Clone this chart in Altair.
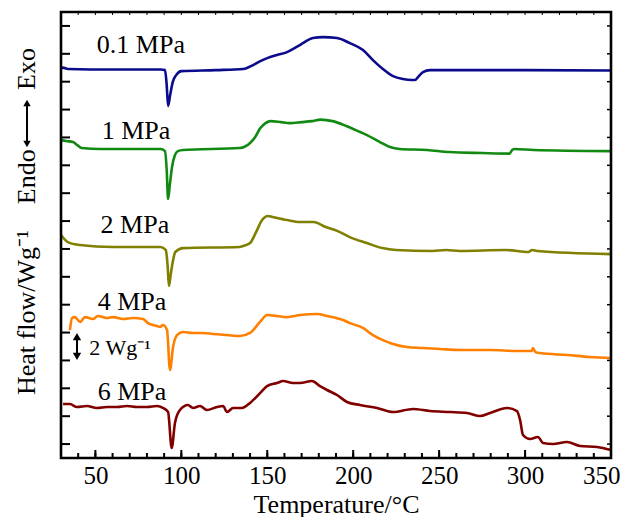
import altair as alt
import pandas as pd

FONT = "Liberation Serif"

# ---- curve data: temperature (°C) and offset heat flow (W/g, arbitrary stack offset) ----
T_01 = [30, 31, 34, 60, 88, 90.5, 91.5, 92.3, 93.5, 95, 97, 100, 120, 136, 141.7, 146, 150, 155.7,
        161.5, 169, 176.6, 182.4, 190.6, 198, 205.7, 211.5, 217.3, 223.2, 229, 234, 236, 237.7,
        240.6, 244.7, 266, 300, 350]
V_01 = [27.94, 28.01, 27.91, 27.87, 27.87, 27.83, 26.76, 25.25, 26.04, 26.97, 27.47, 27.76, 27.83,
        27.91, 28.19, 28.48, 28.69, 28.91, 29.12, 29.63, 30.13, 30.2, 30.13, 29.77, 29.27, 28.55,
        27.91, 27.40, 27.19, 27.12, 27.12, 27.33, 27.69, 27.83, 27.83, 27.83, 27.80]

T_1 = [30, 33, 37, 39.5, 42, 53, 88, 90.5, 91.5, 92.3, 93.3, 94.6, 96.3, 98, 101, 134, 140, 143,
       146, 149, 152, 158, 163, 170, 176, 181, 188, 196, 204, 208, 215.6, 221.4, 227, 243, 256,
       275, 291, 292.5, 294, 305, 350]
V_1 = [22.81, 22.74, 22.67, 22.45, 22.24, 22.17, 22.17, 22.02, 20.66, 18.58, 19.58, 20.88, 21.74,
       22.02, 22.10, 22.24, 22.60, 23.03, 23.67, 24.03, 24.17, 24.10, 24.03, 24.10, 24.17, 24.28,
       24.17, 23.82, 23.39, 23.17, 22.67, 22.31, 22.17, 22.10, 21.95, 21.88, 21.84, 22.10, 22.17,
       22.10, 22.02]

T_2 = [30, 34, 41, 60, 88, 91, 92, 92.8, 93.8, 95, 96.5, 101, 134, 136, 140, 143.5, 147, 150.4,
       153, 161.5, 169, 177, 184, 191, 198, 208, 217, 225, 246, 254, 262, 289, 302, 304, 307, 350]
V_2 = [16.0, 15.49, 15.28, 15.14, 15.14, 14.92, 13.85, 12.34, 13.13, 14.06, 14.78, 15.06, 15.14,
       15.21, 15.42, 16.21, 17.07, 17.36, 17.29, 17.07, 16.93, 16.93, 16.57, 16.28, 15.85, 15.42,
       15.06, 14.92, 14.85, 14.92, 14.85, 14.92, 14.78, 14.92, 14.85, 14.63]

T_4 = [35.2, 36.4, 38.1, 41.1, 44, 48.6, 51.5, 56.8, 60.3, 66.1, 71.9, 77.7, 80.6, 85.9, 87.6,
       89.3, 91.7, 93.4, 95.2, 97.5, 101, 106.8, 112.6, 118.4, 126.6, 134.1, 140, 145.8, 149.9,
       155.7, 161.5, 169.1, 179, 184.8, 194.1, 198.1, 205.7, 211.5, 217.3, 223.2, 231.3, 240.6,
       250.5, 262.1, 279.6, 295.3, 304, 304.6, 306, 308.7, 324.4, 337.8, 350]
V_4 = [9.18, 10.04, 10.11, 9.76, 10.11, 9.97, 10.19, 10.04, 10.11, 9.97, 10.04, 9.97, 9.68, 9.47,
       9.40, 9.54, 9.18, 6.31, 7.96, 8.82, 9.04, 8.97, 8.97, 8.90, 8.82, 8.75, 8.97, 9.76, 10.26,
       10.19, 10.11, 10.26, 10.33, 10.19, 9.90, 9.68, 9.33, 8.82, 8.46, 8.18, 7.96, 7.89, 7.82,
       7.75, 7.75, 7.68, 7.68, 7.89, 7.60, 7.53, 7.39, 7.25, 7.17]

T_6 = [31.2, 35.2, 39.3, 45.1, 50.9, 56.8, 62.6, 68.4, 74.2, 80, 85.9, 89.3, 92.3, 94.4, 96.3,
       99.2, 103.9, 106.8, 110.9, 114.9, 120.8, 124.3, 126.6, 130.1, 135.3, 140, 145.8, 149.9,
       155.7, 159.2, 165, 169.1, 176, 180.7, 184.8, 190.6, 196.4, 204, 213.9, 223.2, 234.8, 244.7,
       256.3, 266.2, 273.8, 279.6, 289.5, 295.3, 297.1, 298.8, 302.9, 307.5, 310.4, 316.3, 324.4,
       332, 341.9, 350]
V_6 = [3.87, 3.87, 3.66, 3.73, 3.59, 3.66, 3.66, 3.73, 3.66, 3.66, 3.73, 3.59, 3.30, 0.72, 2.51,
       3.44, 3.80, 3.59, 3.73, 3.44, 3.66, 3.73, 3.30, 3.59, 3.59, 3.95, 4.66, 5.16, 5.38, 5.52,
       5.38, 5.38, 5.52, 5.16, 4.88, 4.52, 4.02, 3.80, 3.59, 3.30, 3.52, 3.37, 3.30, 3.23, 3.01,
       3.23, 3.59, 3.37, 2.73, 1.65, 1.36, 1.51, 1.08, 1.00, 1.15, 0.86, 0.79, 0.57]

SERIES = ["0.1 MPa", "1 MPa", "2 MPa", "4 MPa", "6 MPa"]
COLORS = ["#0b0b8c", "#128a12", "#808000", "#ff8000", "#800000"]

LABEL_T = [76.5, 73.6, 73.0, 71.3, 71.3]
LABEL_V = [29.06, 22.89, 16.14, 10.62, 4.16]

X_LABELS = [50, 100, 150, 200, 250, 300, 350]
X_MINOR = [40, 50, 60, 70, 80, 90, 100, 110, 120, 130, 140, 150, 160, 170, 180, 190, 200, 210,
           220, 230, 240, 250, 260, 270, 280, 290, 300, 310, 320, 330, 340]
Y_TICKS = [1, 3, 5, 7, 9, 11, 13, 15, 17, 19, 21, 23, 25, 27, 29, 31]

SCALE_T = 39.3
SCALE_LO, SCALE_HI = 7, 9
SCALE_TEXT = "2 Wg⁻¹"
SCALE_TEXT_T, SCALE_TEXT_V = 46.5, 7.4

Y_TITLE_MAIN = "Heat flow/Wg⁻¹\u2003Endo"
Y_TITLE_EXO = "Exo"

rows = []
for name, ts, vs in zip(SERIES, [T_01, T_1, T_2, T_4, T_6], [V_01, V_1, V_2, V_4, V_6]):
    for i, (t, v) in enumerate(zip(ts, vs)):
        rows.append({"series": name, "T": t, "v": v, "i": i})
df = pd.DataFrame(rows)

W, H = 550, 446
xs = alt.Scale(domain=[30, 350], nice=False, zero=False)
ys = alt.Scale(domain=[0, 32], nice=False, zero=False)
xaxis = alt.Axis(values=X_LABELS, ticks=False, domain=False, grid=False,
                 labelFont=FONT, labelFontSize=25, labelColor="black", labelPadding=5,
                 labelFlush=True, labelFlushOffset=9,
                 title="Temperature/°C", titleFont=FONT, titleFontSize=26,
                 titleFontWeight="normal", titleColor="black", titlePadding=3)

def X(field="T"):
    return alt.X(f"{field}:Q", scale=xs, axis=xaxis)

def Y(field="v"):
    return alt.Y(f"{field}:Q", scale=ys, axis=None)

lines = alt.Chart(df).mark_line(strokeWidth=2.6, interpolate="monotone").encode(
    x=X(), y=Y(),
    color=alt.Color("series:N", scale=alt.Scale(domain=SERIES, range=COLORS), legend=None),
    detail="series:N",
    order="i:Q",
)

lab_df = pd.DataFrame({"text": SERIES, "T": LABEL_T, "v": LABEL_V})
labels = alt.Chart(lab_df).mark_text(font=FONT, fontSize=26, align="center",
                                     baseline="alphabetic", color="black").encode(
    x=X(), y=Y(), text="text:N")

# plot frame
frame = alt.Chart(pd.DataFrame({"f": [0]})).mark_rect(
    fill=None, stroke="black", strokeWidth=2.6).encode(
    x=alt.value(0), x2=alt.value(W), y=alt.value(0), y2=alt.value(H))

# frame ticks (inward)
ytick_df = pd.DataFrame({"v": Y_TICKS})
left_ticks = alt.Chart(ytick_df).mark_rule(color="black", strokeWidth=2).encode(
    y=Y(), x=alt.value(0), x2=alt.value(9))
right_ticks = alt.Chart(ytick_df).mark_rule(color="black", strokeWidth=1.5).encode(
    y=Y(), x=alt.value(W), x2=alt.value(W - 4))
xminor_df = pd.DataFrame({"T": X_MINOR})
bottom_minor = alt.Chart(xminor_df).mark_rule(color="black", strokeWidth=2).encode(
    x=X(), y=alt.value(H), y2=alt.value(H - 5))
top_minor = alt.Chart(xminor_df).mark_rule(color="black", strokeWidth=1).encode(
    x=X(), y=alt.value(0), y2=alt.value(3))
xmajor_df = pd.DataFrame({"T": X_LABELS[:-1]})
bottom_major = alt.Chart(xmajor_df).mark_rule(color="black", strokeWidth=2).encode(
    x=X(), y=alt.value(H), y2=alt.value(H - 8))

# scale bar
bar_df = pd.DataFrame({"T": [SCALE_T], "lo": [SCALE_LO + 0.3], "hi": [SCALE_HI - 0.3]})
bar = alt.Chart(bar_df).mark_rule(color="black", strokeWidth=2).encode(
    x=X(), y=Y("lo"), y2="hi:Q")
head_df = pd.DataFrame({"T": [SCALE_T, SCALE_T], "v": [SCALE_HI - 0.3, SCALE_LO + 0.3],
                        "shape": ["triangle-up", "triangle-down"]})
heads = alt.Chart(head_df).mark_point(filled=True, color="black", size=70, opacity=1).encode(
    x=X(), y=Y(), shape=alt.Shape("shape:N", scale=None, legend=None))
bar_text = alt.Chart(pd.DataFrame({"T": [SCALE_TEXT_T], "v": [SCALE_TEXT_V], "t": [SCALE_TEXT]})).mark_text(
    font=FONT, fontSize=22, align="left", baseline="alphabetic", color="black").encode(
    x=X(), y=Y(), text="t:N")

# y title (rotated text + drawn double arrow)
ytitle = alt.Chart(pd.DataFrame({"t": [Y_TITLE_MAIN]})).mark_text(
    font=FONT, fontSize=26, angle=270, align="left", baseline="alphabetic", color="black").encode(
    x=alt.value(-26), y=alt.value(383), text="t:N")
ytitle_exo = alt.Chart(pd.DataFrame({"t": [Y_TITLE_EXO]})).mark_text(
    font=FONT, fontSize=26, angle=270, align="left", baseline="alphabetic", color="black").encode(
    x=alt.value(-26), y=alt.value(78), text="t:N")
yarrow = alt.Chart(pd.DataFrame({"a": [0]})).mark_rule(color="black", strokeWidth=2).encode(
    x=alt.value(-34), y=alt.value(92), y2=alt.value(131))
yarrow_heads = alt.Chart(pd.DataFrame({"shape": ["triangle-up", "triangle-down"],
                                       "py": [91, 132]})).mark_point(
    filled=True, color="black", size=55, opacity=1).encode(
    x=alt.value(-34), y=alt.Y("py:Q", scale=None, axis=None),
    shape=alt.Shape("shape:N", scale=None, legend=None))

chart = alt.layer(lines, labels, frame, left_ticks, right_ticks, bottom_minor, top_minor,
                  bottom_major, bar, heads, bar_text, ytitle, ytitle_exo, yarrow,
                  yarrow_heads).properties(
    width=W, height=H,
    padding={"left": 53, "top": 4, "right": 10, "bottom": 59},
    autosize=alt.AutoSizeParams(type="none"),
    background="white",
).configure_view(stroke=None)

chart.save("out.html", embed_options={"renderer": "svg", "actions": False})
